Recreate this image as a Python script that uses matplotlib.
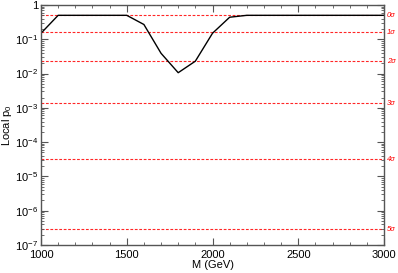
import numpy as np
import matplotlib
matplotlib.use("Agg")
import matplotlib.pyplot as plt
from matplotlib.ticker import FixedLocator, LogLocator, MultipleLocator, FuncFormatter

plt.rcParams['font.family'] = ['Liberation Sans', 'DejaVu Sans']
plt.rcParams['mathtext.fontset'] = 'custom'
plt.rcParams['mathtext.rm'] = 'Liberation Sans'
plt.rcParams['mathtext.it'] = 'Liberation Sans:italic'

# scan of the local p-value
mass = [1000, 1100, 1200, 1300, 1400, 1500, 1600, 1700, 1800, 1900, 2000,
        2100, 2200, 2300, 2400, 2500, 2600, 2700, 2800, 2900, 3000]
p0 = [0.15, 0.5, 0.5, 0.5, 0.5, 0.5, 0.27, 0.039, 0.0106, 0.023, 0.15,
      0.44, 0.5, 0.5, 0.5, 0.5, 0.5, 0.5, 0.5, 0.5, 0.5]

# one-sided p-values for n sigma
sigma_labels = ['0σ', '1σ', '2σ', '3σ', '4σ', '5σ']
sigma_p = [0.5, 0.1587, 0.02275, 0.00135, 3.17e-5, 2.87e-7]

fig = plt.figure(figsize=(3.98, 2.73), dpi=100)
ax = fig.add_axes([41 / 398, 28 / 273, 343 / 398, 240 / 273])

for p, lab in zip(sigma_p, sigma_labels):
    ax.axhline(p, color='red', lw=0.8, ls=(0, (2.5, 1.5)), alpha=0.85, zorder=1)
    ax.text(1.008, p, lab, color='red', fontsize=5.5, style='italic',
            transform=ax.get_yaxis_transform(), va='center', ha='left')

ax.plot(mass, p0, color='black', lw=1.0, zorder=2)

ax.set_yscale('log')
ax.set_xlim(1000, 3000)
ax.set_ylim(1e-7, 1)

ax.xaxis.set_major_locator(MultipleLocator(500))
ax.xaxis.set_minor_locator(MultipleLocator(100))
ax.yaxis.set_major_locator(FixedLocator([10.0 ** k for k in range(-7, 1)]))
ax.yaxis.set_minor_locator(LogLocator(base=10, subs=np.arange(2, 10), numticks=20))


def fmt(v, pos):
    k = int(round(np.log10(v)))
    if k == 0:
        return '1'
    return r'$10^{%d}$' % k


ax.yaxis.set_major_formatter(FuncFormatter(fmt))

ax.tick_params(which='both', direction='in', top=True, right=True,
               color='#555555', labelsize=8)
ax.tick_params(which='major', length=5, width=0.8)
ax.tick_params(which='minor', length=2.5, width=0.6)
ax.tick_params(axis='y', pad=2)
for s in ax.spines.values():
    s.set_color('#555555')
    s.set_linewidth(1.0)

ax.set_xlabel('M (GeV)', fontsize=8, labelpad=0)
ax.set_ylabel(r'Local p$_0$', fontsize=8, labelpad=1)

fig.savefig('out.png', dpi=100)
